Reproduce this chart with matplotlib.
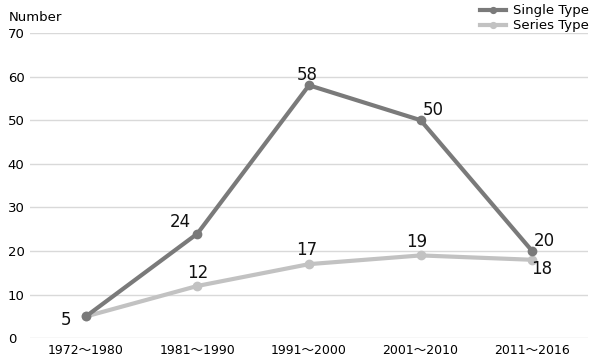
import matplotlib
matplotlib.use("Agg")
import matplotlib.pyplot as plt

categories = ["1972～1980", "1981～1990", "1991～2000", "2001～2010", "2011～2016"]
single_type = [5, 24, 58, 50, 20]
series_type = [5, 12, 17, 19, 18]
yticks = [0, 10, 20, 30, 40, 50, 60, 70]

plt.rcParams['font.family'] = ['DejaVu Sans', 'Noto Sans CJK KR']

fig = plt.figure(figsize=(6, 3.58), dpi=100)
ax = fig.add_axes([0.05, 0.055, 0.93, 0.853])

x = list(range(len(categories)))
dark = "#7a7a7a"
light = "#c2c2c2"
ax.plot(x, series_type, color=light, lw=3, marker="o", ms=6, label="Series Type", zorder=3)
ax.plot(x, single_type, color=dark, lw=3, marker="o", ms=6, label="Single Type", zorder=4)

ax.set_xlim(-0.5, len(categories) - 0.5)
ax.set_ylim(0, 70)
ax.set_yticks(yticks)
ax.set_xticks(x)
ax.set_xticklabels(categories, fontsize=9)
ax.tick_params(axis="y", labelsize=9.5, length=0, pad=16)
ax.tick_params(axis="x", length=0, pad=4)
for lbl in ax.get_yticklabels():
    lbl.set_horizontalalignment("left")
ax.yaxis.grid(True, color="#d9d9d9", lw=1)
ax.set_axisbelow(True)
for s in ax.spines.values():
    s.set_visible(False)

# annotations
single_off = [(-14, -12), (-12, 2), (-1, 1), (9, 1), (9, 1)]
series_off = [(-14, -9), (0, 3), (-2, 4), (-3, 3), (7, -13)]
for i, v in enumerate(single_type):
    if i == 0:
        continue
    dx, dy = single_off[i]
    ax.annotate(str(v), (x[i], v), xytext=(dx, dy), textcoords="offset points",
                ha="center", va="bottom", fontsize=12, color="#111111")
for i, v in enumerate(series_type):
    dx, dy = series_off[i]
    ax.annotate(str(v), (x[i], v), xytext=(dx, dy), textcoords="offset points",
                ha="center", va="bottom", fontsize=12, color="#111111")

fig.text(0.015, 0.952, "Number", fontsize=9.5, ha="left", va="center")

h, l = ax.get_legend_handles_labels()
leg = fig.legend([h[1], h[0]], [l[1], l[0]], loc="upper right", bbox_to_anchor=(0.995, 1.01),
                 frameon=False, fontsize=9.5, handlelength=2.0, labelspacing=0.15,
                 handletextpad=0.5, borderaxespad=0.2, markerscale=0.7)

fig.savefig("out.png", dpi=100)
